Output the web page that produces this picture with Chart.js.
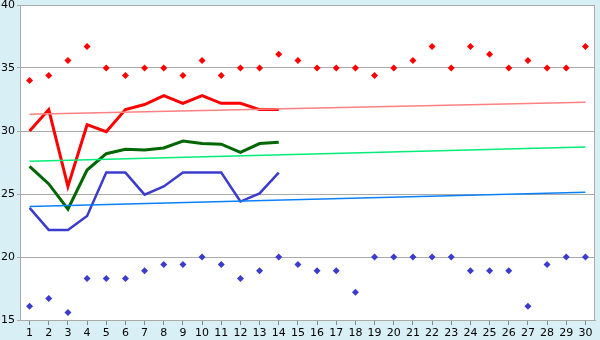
<!DOCTYPE html>
<html><head><meta charset="utf-8">
<script src="https://cdn.jsdelivr.net/npm/chart.js@4/dist/chart.umd.min.js"></script>
<style>html,body{margin:0;padding:0;background:#d9eff6;}#wrap{width:600px;height:340px;}</style>
</head><body><div id="wrap"><canvas id="c" width="600" height="340"></canvas></div>
<script>
const days = ['1','2','3','4','5','6','7','8','9','10','11','12','13','14','15','16','17','18','19','20','21','22','23','24','25','26','27','28','29','30'];
const maxPoints = [34,34.4,35.6,36.7,35,34.4,35,35,34.4,35.6,34.4,35,35,36.1,35.6,35,35,35,34.4,35,35.6,36.7,35,36.7,36.1,35,35.6,35,35,36.7];
const minPoints = [16.1,16.7,15.6,18.3,18.3,18.3,18.9,19.4,19.4,20,19.4,18.3,18.9,20,19.4,18.9,18.9,17.2,20,20,20,20,20,18.9,18.9,18.9,16.1,19.4,20,20];
const redLine = [30,31.7,25.6,30.5,29.95,31.7,32.1,32.8,32.2,32.8,32.2,32.2,31.7,31.7];
const greenLine = [27.2,25.8,23.8,26.9,28.2,28.55,28.5,28.65,29.2,29.0,28.95,28.3,29.0,29.1];
const blueLine = [23.9,22.15,22.15,23.25,26.7,26.7,24.95,25.6,26.7,26.7,26.7,24.4,25.05,26.7];
const redTrend = [31.33,32.28];
const greenTrend = [27.59,28.73];
const blueTrend = [24.0,25.13];
const yTicks = [15,20,25,30,35,40];

const trend = (v) => [{x:days[0],y:v[0]},{x:days[days.length-1],y:v[1]}];
const bgPlugin = {id:'bg',beforeDraw(ch){const {ctx,chartArea:a}=ch;ctx.save();ctx.fillStyle='#d9eff6';ctx.fillRect(0,0,ch.width,ch.height);ctx.fillStyle='#ffffff';ctx.fillRect(a.left,a.top,a.right-a.left,a.bottom-a.top);ctx.restore();},
 afterDraw(ch){const {ctx,chartArea:a}=ch;ctx.save();ctx.strokeStyle='#aaaaaa';ctx.lineWidth=1;ctx.strokeRect(a.left+0.5,a.top+0.5,a.right-a.left-1,a.bottom-a.top);ctx.restore();}};

new Chart(document.getElementById('c'),{
 type:'line',
 data:{labels:days,datasets:[
  {data:trend(redTrend),borderColor:'#ff8080',borderWidth:1.5,pointRadius:0,tension:0},
  {data:trend(greenTrend),borderColor:'#00ee77',borderWidth:1.5,pointRadius:0,tension:0},
  {data:trend(blueTrend),borderColor:'#0a80ff',borderWidth:1.5,pointRadius:0,tension:0},
  {data:redLine,borderColor:'#ff0000',borderWidth:3,pointRadius:0,tension:0},
  {data:greenLine,borderColor:'#006600',borderWidth:3,pointRadius:0,tension:0},
  {data:blueLine,borderColor:'#3c3ccc',borderWidth:2.5,pointRadius:0,tension:0},
  {data:maxPoints,showLine:false,pointStyle:'rectRot',pointRadius:3.5,pointBackgroundColor:'#ff0000',pointBorderWidth:0,borderColor:'#ff0000'},
  {data:minPoints,showLine:false,pointStyle:'rectRot',pointRadius:3.5,pointBackgroundColor:'#3c3ccc',pointBorderWidth:0,borderColor:'#3c3ccc'}
 ]},
 options:{responsive:false,animation:false,
  layout:{padding:{top:5,right:5,left:0,bottom:0}},
  plugins:{legend:{display:false},tooltip:{enabled:false}},
  scales:{
   x:{type:'category',offset:true,
      grid:{display:true,drawOnChartArea:false,drawTicks:true,tickLength:5,color:'#888888',offset:false},
      border:{display:true,color:'#aaaaaa'},
      ticks:{color:'#000',font:{family:'DejaVu Sans',size:11},padding:2,maxRotation:0,autoSkip:false,
        callback:function(v,i){return days[i];}},
      afterFit(s){s.height=20;s.paddingLeft=0;s.paddingRight=0;}
   },
   y:{min:15,max:40,
      afterBuildTicks(s){s.ticks=yTicks.map(v=>({value:v}));},
      grid:{color:'#aaaaaa',tickLength:3,drawTicks:true},
      border:{display:true,color:'#aaaaaa'},
      ticks:{color:'#000',font:{family:'DejaVu Sans',size:11},padding:2},
      afterFit(s){s.width=20;s.paddingTop=0;s.paddingBottom=0;}
   }
  }
 },
 plugins:[bgPlugin]
});
</script></body></html>
